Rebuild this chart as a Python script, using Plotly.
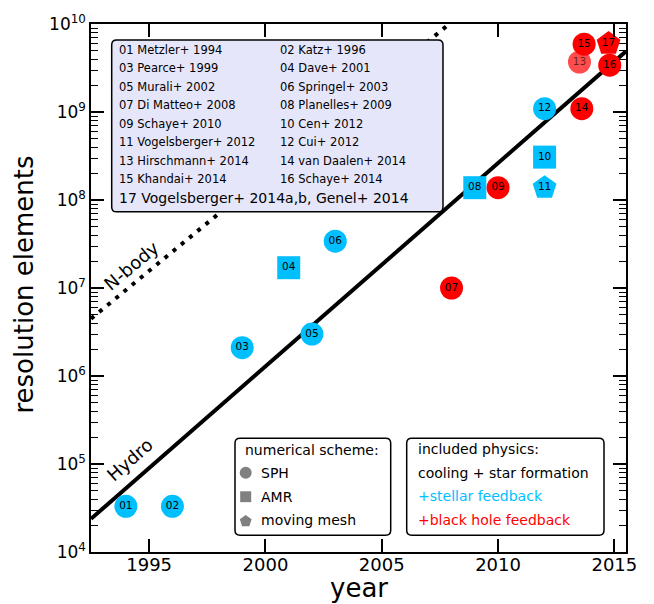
import plotly.graph_objects as go

# ---------------- data ----------------
labels = ["01", "02", "03", "04", "05", "06", "07", "08", "09", "10",
          "11", "12", "13", "14", "15", "16", "17"]
years = [1994, 1996, 1999, 2001, 2002, 2003, 2008, 2009, 2010, 2012,
         2012, 2012, 2013.5, 2013.6, 2013.7, 2014.8, 2014.75]
elements = [3.3e4, 3.3e4, 2.1e6, 1.7e7, 3.0e6, 3.4e7, 1.0e7, 1.38e8, 1.38e8, 3.07e8,
            1.38e8, 1.09e9, 3.7e9, 1.09e9, 5.9e9, 3.4e9, 6.0e9]
schemes = ["SPH", "SPH", "SPH", "AMR", "SPH", "SPH", "SPH", "AMR", "SPH", "AMR",
           "moving mesh", "SPH", "SPH", "SPH", "SPH", "SPH", "moving mesh"]
physics = ["stellar", "stellar", "stellar", "stellar", "stellar", "stellar", "bh",
           "stellar", "bh", "stellar", "stellar", "stellar", "bh", "bh", "bh", "bh", "bh"]
faded = ["13"]

hydro_years = [1992.5, 2015.5]
hydro_values = [2.38e4, 4.89e9]
nbody_years = [1992.5, 2007.9]
nbody_values = [4.48e6, 1.0e10]

references = [
    "01 Metzler+ 1994", "02 Katz+ 1996",
    "03 Pearce+ 1999", "04 Dave+ 2001",
    "05 Murali+ 2002", "06 Springel+ 2003",
    "07 Di Matteo+ 2008", "08 Planelles+ 2009",
    "09 Schaye+ 2010", "10 Cen+ 2012",
    "11 Vogelsberger+ 2012", "12 Cui+ 2012",
    "13 Hirschmann+ 2014", "14 van Daalen+ 2014",
    "15 Khandai+ 2014", "16 Schaye+ 2014",
]
reference_last = "17 Vogelsberger+ 2014a,b, Genel+ 2014"

x_ticks = [1995, 2000, 2005, 2010, 2015]
y_exponents = [4, 5, 6, 7, 8, 9, 10]

# ---------------- styles ----------------
FONT = "DejaVu Sans"
BLUE = "#00BFFF"
RED = "#FF0000"
GREY = "#808080"
W, H = 654, 604
L, R, T, B = 91, 28, 17, 52
PW, PH = W - L - R, H - T - B

symbol_map = {"SPH": "circle", "AMR": "square", "moving mesh": "pentagon"}
size_map = {"SPH": 23, "AMR": 23, "moving mesh": 25}
color_map = {"stellar": BLUE, "bh": RED}


def px(x):
    return (x - L) / PW


def py(y):
    return 1 - (y - T) / PH


def rrect_path(x0, y0, x1, y1, r):
    pts = [
        ("M", [(x0 + r, y0)]),
        ("L", [(x1 - r, y0)]),
        ("Q", [(x1, y0), (x1, y0 + r)]),
        ("L", [(x1, y1 - r)]),
        ("Q", [(x1, y1), (x1 - r, y1)]),
        ("L", [(x0 + r, y1)]),
        ("Q", [(x0, y1), (x0, y1 - r)]),
        ("L", [(x0, y0 + r)]),
        ("Q", [(x0, y0), (x0 + r, y0)]),
    ]
    s = ""
    for cmd, ps in pts:
        s += cmd + " ".join(f"{px(a):.5f},{py(b):.5f}" for a, b in ps) + " "
    return s + "Z"


fig = go.Figure()

# lines
fig.add_trace(go.Scatter(x=nbody_years, y=nbody_values, mode="lines",
                         line=dict(color="black", width=4, dash="4px,6.6px"),
                         hoverinfo="skip", showlegend=False))
fig.add_trace(go.Scatter(x=hydro_years, y=hydro_values, mode="lines",
                         line=dict(color="black", width=4),
                         hoverinfo="skip", showlegend=False))

# markers
fig.add_trace(go.Scatter(
    x=years, y=elements, mode="markers+text", text=labels,
    textposition="middle center",
    textfont=dict(family=FONT, size=10.5,
                  color=["rgba(0,0,0,0.6)" if l in faded else "black" for l in labels]),
    marker=dict(symbol=[symbol_map[s] for s in schemes],
                size=[size_map[s] for s in schemes],
                color=[color_map[p] for p in physics],
                opacity=[0.7 if l in faded else 1 for l in labels],
                line=dict(width=0)),
    showlegend=False, hoverinfo="skip"))

shapes = []
annotations = []

# reference box
shapes.append(dict(type="path", xref="paper", yref="paper",
                   path=rrect_path(111.7, 33.3, 443, 207.3, 5),
                   fillcolor="#E6E6FA", line=dict(color="black", width=1.5), layer="above"))
for i, txt in enumerate(references):
    col = i % 2
    row = i // 2
    annotations.append(dict(xref="paper", yref="paper",
                            x=px(117.3 if col == 0 else 278.3), y=py(43.3 + 18.67 * row),
                            xanchor="left", yanchor="middle", text=txt, showarrow=False,
                            font=dict(family=FONT, size=11.5, color="black")))
annotations.append(dict(xref="paper", yref="paper", x=px(117.3), y=py(193.3),
                        xanchor="left", yanchor="middle", text=reference_last, showarrow=False,
                        font=dict(family=FONT, size=14, color="black")))

# numerical scheme box
shapes.append(dict(type="path", xref="paper", yref="paper",
                   path=rrect_path(235, 436.7, 390.7, 535, 5),
                   fillcolor="white", line=dict(color="black", width=1.5), layer="above"))
annotations.append(dict(xref="paper", yref="paper", x=px(243.3), y=py(448.3),
                        xanchor="left", yanchor="middle", text="numerical scheme:",
                        showarrow=False, font=dict(family=FONT, size=14, color="black")))
scheme_rows = [("SPH", 471.7), ("AMR", 496), ("moving mesh", 520)]
mx = 245.7
for name, yy in scheme_rows:
    if name == "SPH":
        shapes.append(dict(type="circle", xref="paper", yref="paper",
                           x0=px(mx - 6), x1=px(mx + 6), y0=py(yy + 6), y1=py(yy - 6),
                           fillcolor=GREY, line=dict(width=0), layer="above"))
    elif name == "AMR":
        shapes.append(dict(type="rect", xref="paper", yref="paper",
                           x0=px(mx - 5.5), x1=px(mx + 5.5), y0=py(yy + 5.5), y1=py(yy - 5.5),
                           fillcolor=GREY, line=dict(width=0), layer="above"))
    else:
        rr = 6.2
        pts = [(0, -rr), (0.951 * rr, -0.309 * rr), (0.588 * rr, 0.809 * rr),
               (-0.588 * rr, 0.809 * rr), (-0.951 * rr, -0.309 * rr)]
        path = "M" + " L".join(f"{px(mx + a):.5f},{py(yy + 0.8 + b):.5f}" for a, b in pts) + " Z"
        shapes.append(dict(type="path", xref="paper", yref="paper", path=path,
                           fillcolor=GREY, line=dict(width=0), layer="above"))
    annotations.append(dict(xref="paper", yref="paper", x=px(259.3), y=py(yy),
                            xanchor="left", yanchor="middle", text=name, showarrow=False,
                            font=dict(family=FONT, size=14, color="black")))

# included physics box
shapes.append(dict(type="path", xref="paper", yref="paper",
                   path=rrect_path(406.7, 436.7, 604, 535, 5),
                   fillcolor="white", line=dict(color="black", width=1.5), layer="above"))
phys_rows = [("included physics:", "black", 447.7),
             ("cooling + star formation", "black", 471.7),
             ("+stellar feedback", BLUE, 495.7),
             ("+black hole feedback", RED, 520)]
for txt, c, yy in phys_rows:
    annotations.append(dict(xref="paper", yref="paper", x=px(415.7), y=py(yy),
                            xanchor="left", yanchor="middle", text=txt, showarrow=False,
                            font=dict(family=FONT, size=14, color=c)))

# line labels
annotations.append(dict(xref="paper", yref="paper", x=px(131.7), y=py(261.7),
                        xanchor="center", yanchor="middle",
                        text="N-body", textangle=-40, showarrow=False,
                        font=dict(family=FONT, size=18, color="black")))
annotations.append(dict(xref="paper", yref="paper", x=px(130), y=py(458.3),
                        xanchor="center", yanchor="middle",
                        text="Hydro", textangle=-41.5, showarrow=False,
                        font=dict(family=FONT, size=18, color="black")))

# axis titles
annotations.append(dict(xref="paper", yref="paper", x=0.5, y=py(588.5),
                        text="year", showarrow=False, xanchor="center", yanchor="middle",
                        font=dict(family=FONT, size=26, color="black")))
annotations.append(dict(xref="paper", yref="paper", x=px(24), y=py(281),
                        text="resolution elements", textangle=-90, showarrow=False,
                        xanchor="center", yanchor="middle",
                        font=dict(family=FONT, size=26, color="black")))

fig.update_layout(
    width=W, height=H,
    margin=dict(l=L, r=R, t=T, b=B),
    paper_bgcolor="white", plot_bgcolor="white",
    shapes=shapes, annotations=annotations,
    showlegend=False,
    xaxis=dict(range=[1992.5, 2015.5], tickmode="array", tickvals=x_ticks,
               ticktext=[str(v) for v in x_ticks],
               ticks="inside", ticklen=13, tickwidth=1.5, tickcolor="black",
               ticklabelstandoff=-4,
               showline=True, linecolor="black", linewidth=1.5, mirror="allticks",
               showgrid=False, zeroline=False,
               tickfont=dict(family=FONT, size=18, color="black")),
    yaxis=dict(type="log", range=[4, 10], tickmode="array",
               tickvals=[10 ** e for e in y_exponents],
               ticktext=[f"10<sup>{e}</sup>" for e in y_exponents],
               ticks="inside", ticklen=13, tickwidth=1.5, tickcolor="black",
               minor=dict(ticks="inside", ticklen=7, tickwidth=1.2, tickcolor="black",
                          dtick="D1", showgrid=False),
               showline=True, linecolor="black", linewidth=1.5, mirror="allticks",
               showgrid=False, zeroline=False,
               tickfont=dict(family=FONT, size=17, color="black")),
)

fig.write_html("out.html")
